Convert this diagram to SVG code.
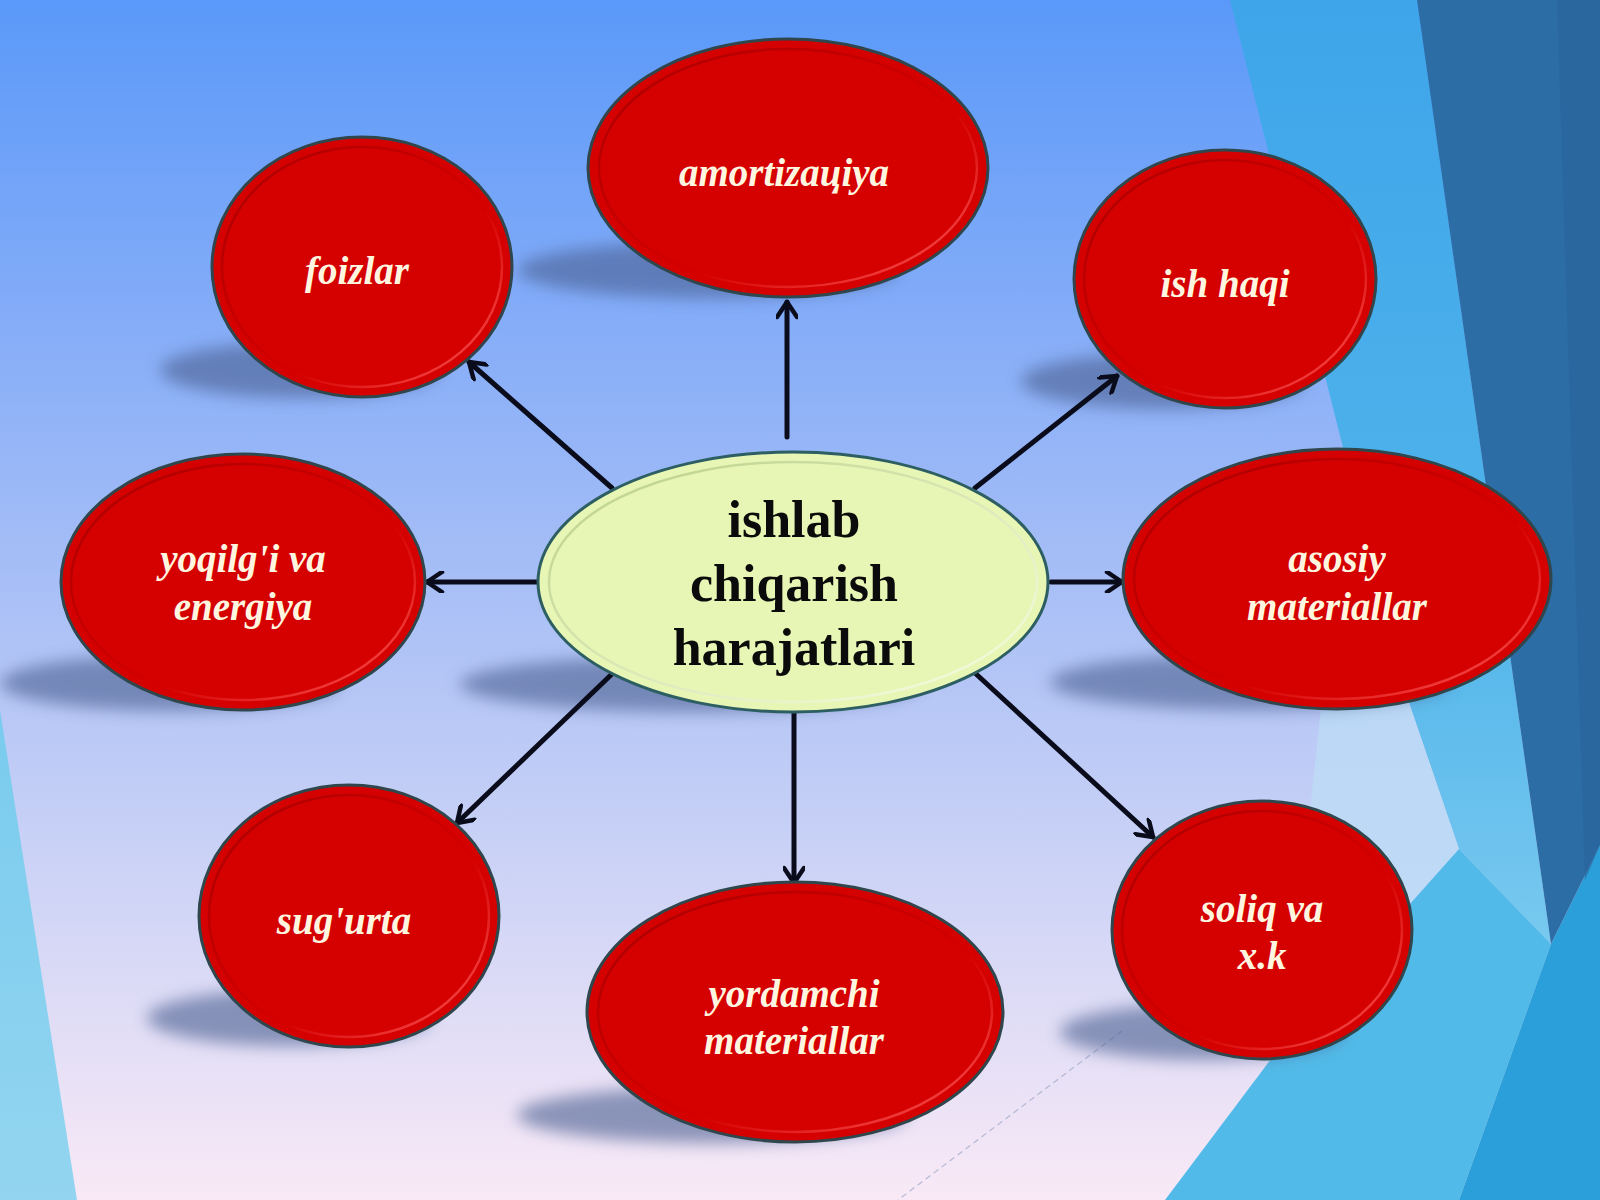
<svg xmlns="http://www.w3.org/2000/svg" width="1600" height="1200" viewBox="0 0 1600 1200">
  <defs>
    <linearGradient id="bg" x1="0" y1="0" x2="0" y2="1">
      <stop offset="0" stop-color="#5a99f9"/>
      <stop offset="0.25" stop-color="#82abf8"/>
      <stop offset="0.5" stop-color="#aac0f6"/>
      <stop offset="0.75" stop-color="#d0d5f6"/>
      <stop offset="1" stop-color="#f9e9f6"/>
    </linearGradient>
    <linearGradient id="band" x1="0" y1="0" x2="0" y2="1">
      <stop offset="0" stop-color="#3ea5ea"/>
      <stop offset="0.6" stop-color="#4fb3ea"/>
      <stop offset="1" stop-color="#78c9ef"/>
    </linearGradient>
    <linearGradient id="strip" x1="0" y1="0" x2="0" y2="1">
      <stop offset="0" stop-color="#79cbee"/>
      <stop offset="1" stop-color="#93d5f0"/>
    </linearGradient>
    <linearGradient id="rim" x1="0" y1="0" x2="1" y2="1">
      <stop offset="0" stop-color="#a80000"/>
      <stop offset="0.6" stop-color="#d40000"/>
      <stop offset="1" stop-color="#ff5a5a"/>
    </linearGradient>
    <linearGradient id="rimc" x1="0" y1="0" x2="1" y2="1">
      <stop offset="0" stop-color="#b9cf86"/>
      <stop offset="1" stop-color="#fbffe6"/>
    </linearGradient>
    <filter id="blur" x="-30%" y="-100%" width="160%" height="300%">
      <feGaussianBlur stdDeviation="8"/>
    </filter>
    <marker id="arr" viewBox="0 0 22 22" refX="19" refY="11" markerWidth="22" markerHeight="22" markerUnits="userSpaceOnUse" orient="auto">
      <path d="M4,1 L19,11 L4,21" fill="none" stroke="#0a0c1c" stroke-width="4.5" stroke-linecap="round" stroke-linejoin="round"/>
    </marker>
  </defs>
  <style>
    .shadow { fill: #4a5f90; opacity: 0.6; filter: url(#blur); }
    .red { fill: #d50000; stroke: #2f474c; stroke-width: 3; }
    .redrim { fill: none; stroke: url(#rim); stroke-width: 2.5; }
    .ctrfill { fill: #e8f6b5; stroke: #2d5f62; stroke-width: 3; }
    .ctrrim { fill: none; stroke: url(#rimc); stroke-width: 2.5; }
    .lbl { font-family: "Liberation Serif", "DejaVu Serif", serif; font-weight: bold; font-style: italic; font-size: 39px; fill: #fff6e0; text-anchor: middle; }
    .ctr { font-family: "Liberation Serif", "DejaVu Serif", serif; font-weight: bold; font-size: 52px; fill: #0b0b0b; text-anchor: middle; }
    .conn { stroke: #0a0c1c; stroke-width: 5; fill: none; stroke-linecap: round; marker-end: url(#arr); }
  </style>

  <!-- background -->
  <rect x="0" y="0" width="1600" height="1200" fill="url(#bg)"/>
  <polygon points="0,710 77,1200 0,1200" fill="url(#strip)"/>
  <polygon points="1230,0 1417,0 1551,944 1459,849 1403,685" fill="url(#band)"/>
  <polygon points="1322,700 1403,685 1459,849 1268,1063 1300,900" fill="#bcdaf6" opacity="0.85"/>
  <polygon points="1165,1200 1268,1063 1459,849 1551,944 1459,1200" fill="#52bae8"/>
  <polygon points="1459,1200 1551,944 1600,845 1600,1200" fill="#2b9fd9"/>
  <polygon points="1417,0 1600,0 1600,845 1551,944" fill="#2c6da6"/>
  <polygon points="1557,0 1600,0 1600,845 1585,880" fill="#28649a" opacity="0.6"/>
  <line x1="1122" y1="1031" x2="898" y2="1200" stroke="#9aa6c6" stroke-width="1.2" stroke-dasharray="6,4" opacity="0.7"/>

  <!-- shadows -->
  <g id="shadows">
    <ellipse class="shadow" cx="708" cy="270" rx="190" ry="28"/>
    <ellipse class="shadow" cx="300" cy="370" rx="140" ry="28"/>
    <ellipse class="shadow" cx="1163" cy="381" rx="142" ry="28"/>
    <ellipse class="shadow" cx="170" cy="683" rx="170" ry="28"/>
    <ellipse class="shadow" cx="690" cy="684" rx="230" ry="28"/>
    <ellipse class="shadow" cx="1250" cy="682" rx="200" ry="28"/>
    <ellipse class="shadow" cx="289" cy="1018" rx="142" ry="28"/>
    <ellipse class="shadow" cx="712" cy="1115" rx="195" ry="28"/>
    <ellipse class="shadow" cx="1202" cy="1032" rx="142" ry="28"/>
  </g>

  <!-- connectors -->
  <g id="connectors">
    <line class="conn" x1="612" y1="488" x2="469" y2="362"/>
    <line class="conn" x1="787" y1="437" x2="787" y2="302"/>
    <line class="conn" x1="975" y1="488" x2="1117" y2="376"/>
    <line class="conn" x1="539" y1="582" x2="427" y2="582"/>
    <line class="conn" x1="1051" y1="582" x2="1122" y2="582"/>
    <line class="conn" x1="613" y1="673" x2="457" y2="823"/>
    <line class="conn" x1="794" y1="710" x2="794" y2="883"/>
    <line class="conn" x1="975" y1="673" x2="1153" y2="837"/>
  </g>

  <!-- nodes -->
  <g id="node-amortizatsiya">
    <ellipse class="red" cx="788" cy="168" rx="200" ry="129"/>
    <ellipse class="redrim" cx="788" cy="168" rx="189" ry="119"/>
    <text class="lbl" x="784" y="186">amortizaцiya</text>
  </g>
  <g id="node-foizlar">
    <ellipse class="red" cx="362" cy="267" rx="150" ry="130"/>
    <ellipse class="redrim" cx="362" cy="267" rx="140" ry="120"/>
    <text class="lbl" x="357" y="284">foizlar</text>
  </g>
  <g id="node-ishhaqi">
    <ellipse class="red" cx="1225" cy="279" rx="151" ry="129"/>
    <ellipse class="redrim" cx="1225" cy="279" rx="141" ry="119"/>
    <text class="lbl" x="1225" y="297">ish haqi</text>
  </g>
  <g id="node-yoqilgi">
    <ellipse class="red" cx="243" cy="582" rx="182" ry="128"/>
    <ellipse class="redrim" cx="243" cy="582" rx="172" ry="118"/>
    <text class="lbl" x="243" y="572">yoqilg'i va</text>
    <text class="lbl" x="243" y="620">energiya</text>
  </g>
  <g id="node-center">
    <ellipse class="ctrfill" cx="793" cy="582" rx="255" ry="130"/>
    <ellipse class="ctrrim" cx="793" cy="582" rx="244" ry="120"/>
    <text class="ctr" x="794" y="537">ishlab</text>
    <text class="ctr" x="794" y="601">chiqarish</text>
    <text class="ctr" x="794" y="665">harajatlari</text>
  </g>
  <g id="node-asosiy">
    <ellipse class="red" cx="1337" cy="579" rx="214" ry="130"/>
    <ellipse class="redrim" cx="1337" cy="579" rx="203" ry="120"/>
    <text class="lbl" x="1337" y="572">asosiy</text>
    <text class="lbl" x="1337" y="620">materiallar</text>
  </g>
  <g id="node-sugurta">
    <ellipse class="red" cx="349" cy="916" rx="150" ry="131"/>
    <ellipse class="redrim" cx="349" cy="916" rx="140" ry="121"/>
    <text class="lbl" x="344" y="934">sug'urta</text>
  </g>
  <g id="node-yordamchi">
    <ellipse class="red" cx="795" cy="1012" rx="208" ry="130"/>
    <ellipse class="redrim" cx="795" cy="1012" rx="197" ry="120"/>
    <text class="lbl" x="794" y="1007">yordamchi</text>
    <text class="lbl" x="794" y="1054">materiallar</text>
  </g>
  <g id="node-soliq">
    <ellipse class="red" cx="1262" cy="930" rx="150" ry="129"/>
    <ellipse class="redrim" cx="1262" cy="930" rx="140" ry="119"/>
    <text class="lbl" x="1262" y="922">soliq va</text>
    <text class="lbl" x="1262" y="969">x.k</text>
  </g>
</svg>
